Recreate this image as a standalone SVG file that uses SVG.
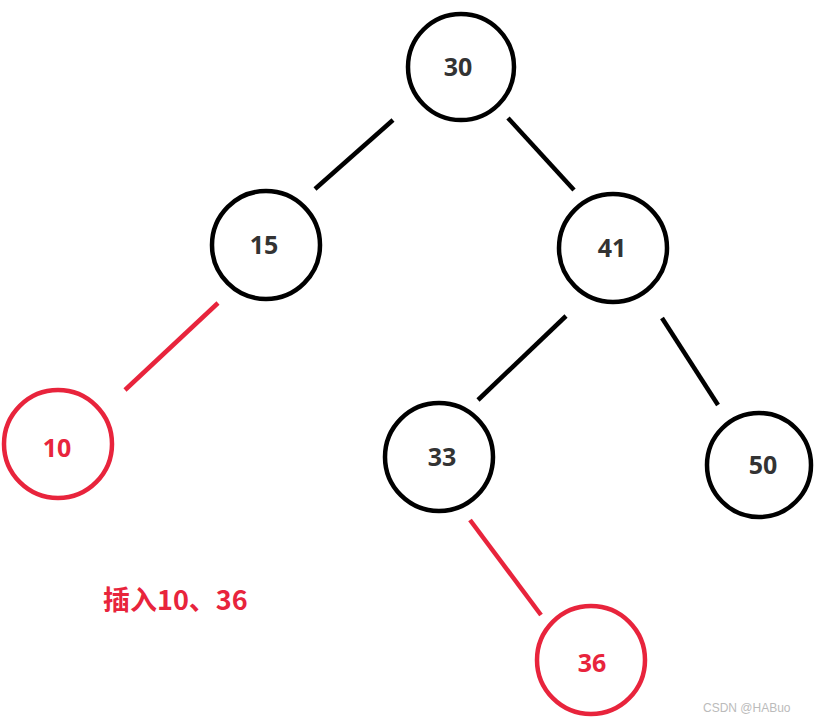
<svg xmlns="http://www.w3.org/2000/svg" width="814" height="723" viewBox="0 0 814 723">
<style>
.n{fill:none;stroke:#000;stroke-width:4.5}
.r{fill:none;stroke:#e8243c;stroke-width:4.5}
.t{font-family:"Noto Sans","Liberation Sans",sans-serif;font-weight:bold;font-size:25px;fill:#333;text-anchor:middle}
.tr{font-family:"Noto Sans","Liberation Sans",sans-serif;font-weight:bold;font-size:25px;fill:#e8243c;text-anchor:middle}
.e{stroke:#000;stroke-width:4.5;stroke-linecap:butt}
.er{stroke:#e8243c;stroke-width:4.5}
</style>
<rect width="814" height="723" fill="#fff"/>
<g id="connectors">
<line class="e" x1="393" y1="120" x2="315" y2="189"/>
<line class="e" x1="508" y1="118" x2="574" y2="190"/>
<line class="er" x1="218" y1="303" x2="125" y2="390"/>
<line class="e" x1="566" y1="316" x2="478" y2="400"/>
<line class="e" x1="662" y1="318" x2="718" y2="405"/>
<line class="er" x1="470" y1="520" x2="541" y2="615"/>
</g>
<g id="n30"><circle class="n" cx="461" cy="67" r="53"/><text class="t" x="458" y="76">30</text></g>
<g id="n15"><circle class="n" cx="266" cy="245" r="54"/><text class="t" x="264" y="254">15</text></g>
<g id="n41"><circle class="n" cx="613" cy="248" r="54"/><text class="t" x="612" y="257">41</text></g>
<g id="n10"><circle class="r" cx="58" cy="444" r="54"/><text class="tr" x="57" y="457">10</text></g>
<g id="n33"><circle class="n" cx="439" cy="457" r="54"/><text class="t" x="442" y="466">33</text></g>
<g id="n50"><circle class="n" cx="759" cy="465" r="52"/><text class="t" x="763" y="474">50</text></g>
<g id="n36"><circle class="r" cx="591" cy="660" r="54"/><text class="tr" x="592" y="672">36</text></g>
<text x="103" y="610" font-family="'Noto Sans CJK SC',sans-serif" font-weight="bold" font-size="27" fill="#e8243c">插入10、36</text>
<text x="703" y="712" font-family="'Liberation Sans',sans-serif" font-size="12" fill="#bbb">CSDN @HABuo</text>
</svg>
